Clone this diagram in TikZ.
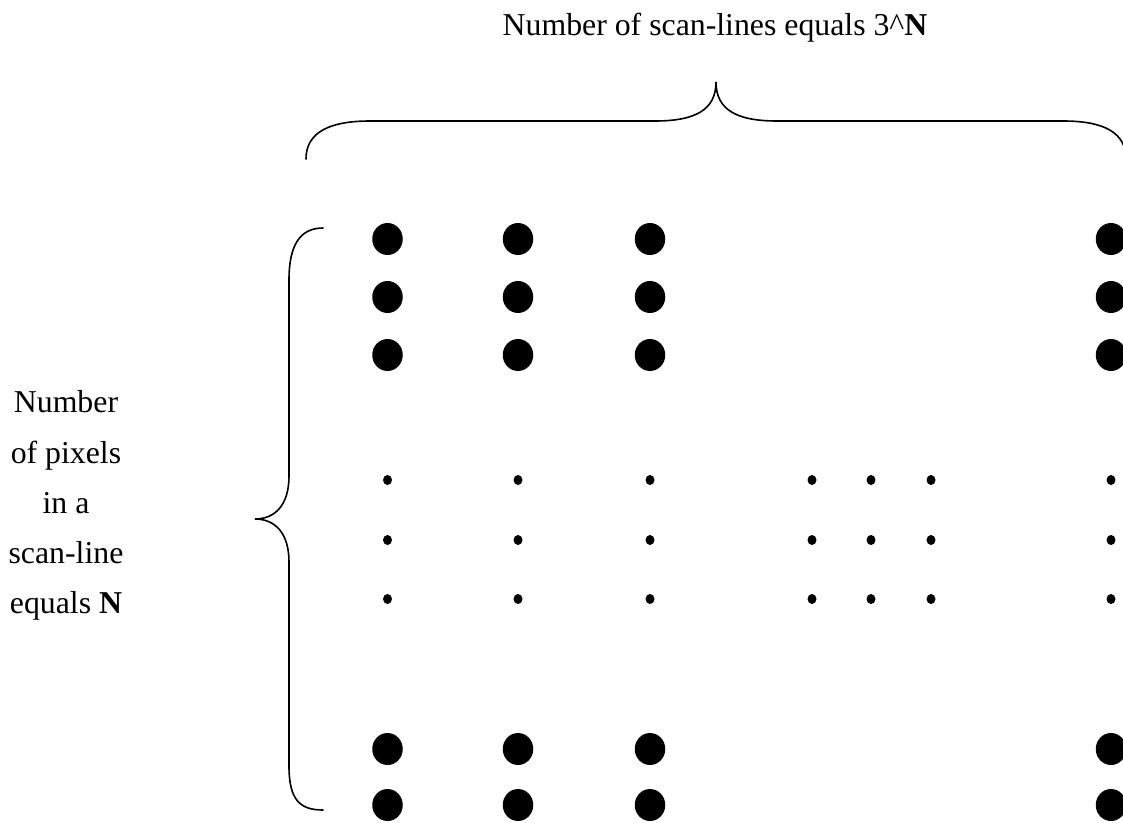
\documentclass[tikz,border=0pt]{standalone}
\usepackage{fontspec}
\setmainfont{Liberation Serif}
\usetikzlibrary{shapes.geometric}
\begin{document}
\begin{tikzpicture}[x=1pt,y=-1pt,
  bigdot/.style={draw=none,fill=black,ellipse,minimum width=30.5pt,minimum height=32pt,inner sep=0pt},
  smalldot/.style={draw=none,fill=black,ellipse,minimum width=9pt,minimum height=10pt,inner sep=0pt},
  brace/.style={line width=1.6pt,line cap=round},
  lbl/.style={font=\fontsize{31.8}{50}\selectfont,inner sep=0pt,anchor=base}]
\useasboundingbox (0,0) rectangle (1123,822);
% big and small dots in the columns
\foreach \c/\x in {a/387.5,b/518,c/650,d/1111}{
  \foreach \r/\y in {1/239,2/297,3/355,4/749,5/805}{
    \node[bigdot] (B\c\r) at (\x,\y) {};
  }
  \foreach \r/\y in {1/480,2/540,3/599}{
    \node[smalldot] (S\c\r) at (\x,\y) {};
  }
}
\foreach \c/\x in {e/812,f/871,g/931}{
  \foreach \r/\y in {1/480,2/540,3/599}{
    \node[smalldot] (S\c\r) at (\x,\y) {};
  }
}
% top label
\node[lbl] (top) at (715,35) {Number of scan-lines equals 3\^{}\textbf{N}};
% left label
\node[lbl] (l1) at (66,412) {Number};
\node[lbl] (l2) at (66,463) {of pixels};
\node[lbl] (l3) at (66,513) {in a};
\node[lbl] (l4) at (66,563) {scan-line};
\node[lbl] (l5) at (66,613) {equals \textbf{N}};
% top brace
\draw[brace] (306,159) .. controls (306,132) and (330,121) .. (370,121) -- (655,121)
  .. controls (695,121) and (716,110) .. (716,82)
  .. controls (716,110) and (737,121) .. (777,121) -- (1063,121)
  .. controls (1103,121) and (1126,132) .. (1126,159);
% left brace
\draw[brace] (323,228) .. controls (300,228) and (289,245) .. (289,280) -- (289,476)
  .. controls (289,505) and (275,519) .. (255,519)
  .. controls (275,519) and (289,533) .. (289,562) -- (289,766)
  .. controls (289,800) and (300,810) .. (323,810);
\end{tikzpicture}
\end{document}
